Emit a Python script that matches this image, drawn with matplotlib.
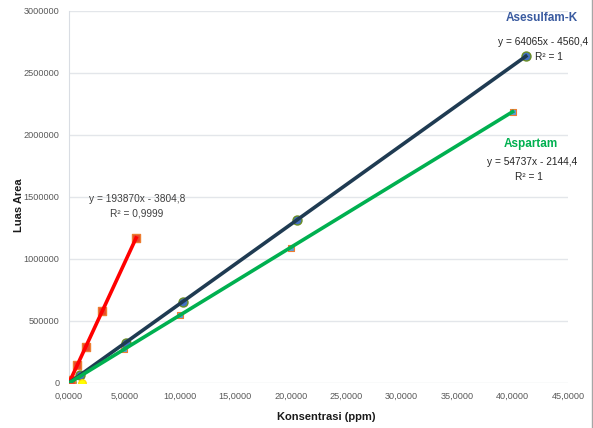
import matplotlib
matplotlib.use("Agg")
import matplotlib.pyplot as plt
from matplotlib.lines import Line2D
from matplotlib.ticker import FuncFormatter
import numpy as np

plt.rcParams['font.family'] = ['Liberation Sans Narrow', 'Liberation Sans', 'DejaVu Sans']

# Data
red_x = [0.15, 0.75, 1.5, 3.0, 6.05]
red_y = [25000, 142000, 288000, 580000, 1170000]

ace_x = [0.21, 1.03, 5.15, 10.3, 20.6, 41.2]
ace_y = [9000, 61400, 325400, 655300, 1315200, 2634900]

asp_x = [0.2, 1.0, 5.0, 10.0, 20.0, 40.0]
asp_y = [8800, 52600, 271500, 545200, 1092600, 2187300]

yel_x = [1.15]
yel_y = [3000]

x_ticks = [0, 5, 10, 15, 20, 25, 30, 35, 40, 45]
y_ticks = [0, 500000, 1000000, 1500000, 2000000, 2500000, 3000000]

fig = plt.figure(figsize=(5.93, 4.28), dpi=100)
ax = fig.add_axes([69/593, 1-383/428, (568-69)/593, (383-11)/428])

# markers
ax.scatter(asp_x, asp_y, marker='s', s=22, facecolor='#5B9BD5', edgecolor='#ED7D31', linewidth=0.8, zorder=3)
ax.scatter(ace_x, ace_y, marker='o', s=42, facecolor='#4472C4', edgecolor='#6B8E23', linewidth=1.0, zorder=3)
ax.scatter(red_x, red_y, marker='s', s=26, facecolor='#E8452C', edgecolor='#ED7D31', linewidth=1.0, zorder=3)
ax.scatter(yel_x, yel_y, marker='o', s=30, facecolor='#FFFF00', edgecolor='#FFD700', linewidth=0.8, zorder=3)

# trendlines
ax.plot([0, max(red_x)], [0, 193870*max(red_x)-3804.8], color='#FF0000', lw=2.6, zorder=4)
ax.plot([0, max(ace_x)], [0, 64065*max(ace_x)-4560.4], color='#1F3B52', lw=2.6, zorder=4)
ax.plot([0, max(asp_x)], [0, 54737*max(asp_x)-2144.4], color='#00B050', lw=2.6, zorder=4)

ax.set_xlim(0, 45)
ax.set_ylim(0, 3000000)
ax.set_xticks(x_ticks)
ax.set_yticks(y_ticks)
ax.xaxis.set_major_formatter(FuncFormatter(lambda v, p: f"{v:.4f}".replace('.', ',')))
ax.yaxis.set_major_formatter(FuncFormatter(lambda v, p: f"{int(v)}"))
ax.tick_params(axis='both', length=0, labelsize=6.6, colors='#595959')
ax.tick_params(axis='y', pad=7)
ax.tick_params(axis='x', pad=6)
ax.grid(axis='y', color='#E3E6EA', lw=1)
ax.set_axisbelow(True)
for s in ['top', 'right', 'bottom']:
    ax.spines[s].set_visible(False)
ax.spines['left'].set_color('#D9DDE3')

# annotations (figure pixel coordinates)
def ftext(x, y, s, **kw):
    fig.text(x/593, 1-y/428, s, ha='center', va='center', **kw)

ftext(326, 417, 'Konsentrasi (ppm)', fontsize=8, fontweight='bold', color='#1a1a1a')
ftext(19, 205, 'Luas Area', fontsize=8, fontweight='bold', color='#1a1a1a', rotation=90)
ftext(542, 18, 'Asesulfam-K', fontsize=8.5, fontweight='bold', color='#3A5BA0')
ftext(543, 42, 'y = 64065x - 4560,4', fontsize=7.3, color='#262626')
ftext(549, 57, 'R² = 1', fontsize=7.3, color='#262626')
ftext(531, 144, 'Aspartam', fontsize=8.5, fontweight='bold', color='#00B050')
ftext(532, 162, 'y = 54737x - 2144,4', fontsize=7.3, color='#262626')
ftext(529, 177, 'R² = 1', fontsize=7.3, color='#262626')
ftext(137, 199, 'y = 193870x - 3804,8', fontsize=7.3, color='#404040')
ftext(137, 213, 'R² = 0,9999', fontsize=7.3, color='#404040')

fig.add_artist(Line2D([592/593, 592/593], [0, 1], transform=fig.transFigure, color='#A6A6A6', lw=1))

fig.savefig('out.png', dpi=100)
